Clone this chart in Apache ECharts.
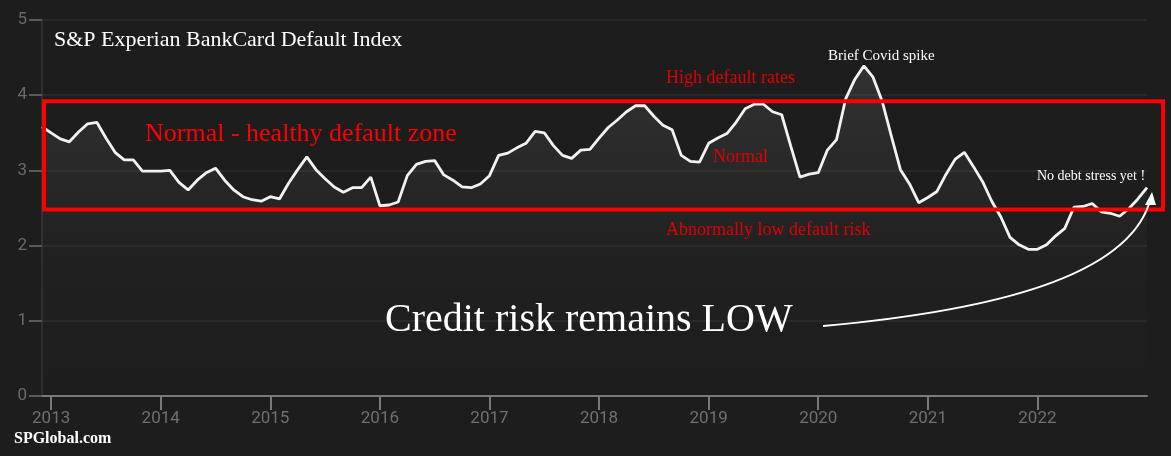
<!DOCTYPE html>
<html>
<head>
<meta charset="utf-8">
<script src="https://cdn.jsdelivr.net/npm/echarts@6/dist/echarts.min.js"></script>
<style>
  html, body { margin: 0; padding: 0; background: #1d1d1d; }
  #chart { width: 1171px; height: 456px; }
</style>
</head>
<body>
<div id="chart"></div>
<script>
// monthly index values, Dec 2012 .. Jan 2023
var indexValues = [
  3.58, 3.50, 3.42, 3.38, 3.51, 3.62, 3.64, 3.43, 3.24, 3.14, 3.14, 2.99,
  2.99, 2.99, 3.00, 2.84, 2.74, 2.87, 2.97, 3.03, 2.87, 2.74, 2.65, 2.61,
  2.59, 2.65, 2.62, 2.83, 3.01, 3.18, 3.01, 2.89, 2.78, 2.71, 2.77, 2.77,
  2.91, 2.53, 2.54, 2.58, 2.93, 3.08, 3.12, 3.13, 2.94, 2.87, 2.78, 2.77,
  2.82, 2.93, 3.20, 3.23, 3.30, 3.36, 3.52, 3.50, 3.33, 3.20, 3.16, 3.27,
  3.28, 3.43, 3.57, 3.67, 3.78, 3.86, 3.86, 3.72, 3.60, 3.54, 3.20, 3.12,
  3.11, 3.36, 3.43, 3.49, 3.64, 3.82, 3.88, 3.88, 3.78, 3.74, 3.32, 2.91,
  2.95, 2.97, 3.27, 3.41, 3.95, 4.21, 4.39, 4.24, 3.92, 3.46, 3.01, 2.82,
  2.57, 2.64, 2.72, 2.95, 3.15, 3.24, 3.05, 2.85, 2.59, 2.38, 2.11, 2.01,
  1.95, 1.95, 2.01, 2.13, 2.23, 2.51, 2.52, 2.56, 2.45, 2.43, 2.39, 2.49,
  2.62, 2.77
];
var startYear = 2012, startMonth = 11; // December 2012 (0-based month)
var tickYears = [2013, 2014, 2015, 2016, 2017, 2018, 2019, 2020, 2021, 2022];
var zoneTop = 3.92, zoneBottom = 2.48;

// month position as decimal year
var months = [];
for (var i = 0; i < indexValues.length; i++) {
  months.push(startYear + (startMonth + i) / 12);
}
var seriesData = months.map(function (t, i) { return [t, indexValues[i]]; });

var chart = echarts.init(document.getElementById('chart'));
var serif = '"Liberation Serif", "Times New Roman", serif';

var option = {
  backgroundColor: '#1d1d1d',
  animation: false,
  grid: { left: 42, right: 24, top: 20, bottom: 60 },
  xAxis: {
    type: 'value',
    min: months[0],
    max: months[months.length - 1],
    axisLine: { show: true, onZero: false, lineStyle: { color: '#7a7a7a', width: 2 } },
    axisTick: { show: true, length: 14, lineStyle: { color: '#7a7a7a', width: 2 }, customValues: tickYears },
    axisLabel: {
      color: '#707070', fontSize: 17, fontFamily: 'Roboto', margin: 14,
      customValues: tickYears,
      formatter: function (v) { return String(Math.round(v)); }
    },
    splitLine: { show: false }
  },
  yAxis: {
    type: 'value',
    min: 0, max: 5, interval: 1,
    axisLine: { show: true, lineStyle: { color: '#2e2e2e', width: 2 } },
    axisTick: { show: true, length: 13, lineStyle: { color: '#5a5a5a', width: 2 } },
    axisLabel: { color: '#6a6a6a', fontSize: 17, fontFamily: 'Roboto', margin: 15 },
    splitLine: { show: true, lineStyle: { color: '#2c2c2c', width: 1.5 } }
  },
  series: [{
    type: 'line',
    data: seriesData,
    showSymbol: false,
    lineStyle: { color: '#f2f2f2', width: 2.8 },
    areaStyle: {
      color: new echarts.graphic.LinearGradient(0, 0, 0, 1, [
        { offset: 0, color: 'rgba(255,255,255,0.13)' },
        { offset: 0.6, color: 'rgba(255,255,255,0.02)' },
        { offset: 1, color: 'rgba(255,255,255,0)' }
      ])
    },
    z: 3
  }]
};
chart.setOption(option);

// annotations: zone rectangle, labels, arrow
var yTop = chart.convertToPixel({ yAxisIndex: 0 }, zoneTop);
var yBot = chart.convertToPixel({ yAxisIndex: 0 }, zoneBottom);

function label(txt, x, y, size, color, weight) {
  return {
    type: 'text', x: x, y: y, z: 10,
    style: {
      text: txt, fill: color, fontSize: size, fontFamily: serif,
      fontWeight: weight || 'normal', align: 'left', verticalAlign: 'middle'
    }
  };
}

chart.setOption({
  graphic: [
    {
      type: 'rect', z: 8,
      shape: { x: 44, y: yTop, width: 1163 - 44, height: yBot - yTop },
      style: { fill: 'none', stroke: '#ff0000', lineWidth: 4 }
    },
    label('S&P Experian BankCard Default Index', 54, 40, 22, '#ffffff'),
    label('Normal - healthy default zone', 145, 134, 26, '#ff0000'),
    label('High default rates', 666, 78, 18, '#e00000'),
    label('Normal', 713, 157, 18, '#e00000'),
    label('Abnormally low default risk', 666, 230, 18, '#e00000'),
    label('Brief Covid spike', 828, 56, 15, '#ffffff'),
    label('No debt stress yet !', 1037, 176, 14, '#ffffff'),
    label('Credit risk remains LOW', 385, 320, 40, '#ffffff'),
    label('SPGlobal.com', 14, 439, 16, '#ffffff', 'bold'),
    {
      type: 'bezierCurve', z: 9,
      shape: { x1: 823, y1: 326, cpx1: 1000, cpy1: 310, cpx2: 1125, cpy2: 275, x2: 1149, y2: 204 },
      style: { stroke: '#ffffff', lineWidth: 2, fill: 'none' }
    },
    {
      type: 'polygon', z: 9,
      shape: { points: [[1145, 205], [1156, 205], [1152, 192]] },
      style: { fill: '#ffffff' }
    }
  ]
});

window.addEventListener('resize', function () {
  chart.resize();
});
</script>
</body>
</html>
